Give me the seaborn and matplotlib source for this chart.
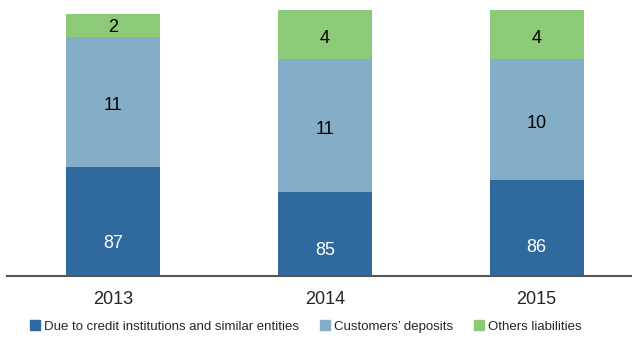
import pandas as pd
import matplotlib
matplotlib.use("Agg")
import matplotlib.pyplot as plt
import seaborn as sns
from matplotlib.patches import Patch

# Data
years = ["2013", "2014", "2015"]
# segment heights as drawn (bar size)
due_credit = [109, 84, 96]
cust_deposits = [130, 133, 121]
others = [23, 49, 49]
# printed shares (%)
due_credit_lbl = [87, 85, 86]
cust_deposits_lbl = [11, 11, 10]
others_lbl = [2, 4, 4]

series_names = ["Due to credit institutions and similar entities",
                "Customers\u2019 deposits", "Others liabilities"]
colors = ["#30699d", "#84aec8", "#8cca77"]

sns.set_style("white")
plt.rcParams["font.family"] = ["Liberation Sans", "DejaVu Sans"]

df = pd.DataFrame({"year": years, "due": due_credit,
                   "dep": cust_deposits, "oth": others})
df["b2"] = df["due"]
df["b3"] = df["due"] + df["dep"]

fig = plt.figure(figsize=(6.32, 3.38), dpi=100)
ax = fig.add_axes([7 / 632, 62 / 338, 625 / 632, 266 / 338])

w = 0.445
sns.barplot(data=df, x="year", y="due", color=colors[0], width=w,
            saturation=1, ax=ax, linewidth=0)
sns.barplot(data=df, x="year", y="dep", bottom=df["b2"], color=colors[1],
            width=w, saturation=1, ax=ax, linewidth=0)
sns.barplot(data=df, x="year", y="oth", bottom=df["b3"], color=colors[2],
            width=w, saturation=1, ax=ax, linewidth=0)

# value labels
for i in range(len(years)):
    ax.text(i, df["due"][i] * 0.3, str(due_credit_lbl[i]), ha="center",
            va="center", color="white", fontsize=13)
    ax.text(i, df["b2"][i] + df["dep"][i] * 0.47, str(cust_deposits_lbl[i]),
            ha="center", va="center", color="black", fontsize=13)
    ax.text(i, df["b3"][i] + df["oth"][i] * 0.42, str(others_lbl[i]),
            ha="center", va="center", color="black", fontsize=13)

ax.set_xlim(-0.5, 2.45)
ax.set_ylim(0, 266)
ax.set(xlabel="", ylabel="")
ax.set_yticks([])
for s in ["top", "right", "left"]:
    ax.spines[s].set_visible(False)
ax.spines["bottom"].set_color("#555555")
ax.spines["bottom"].set_linewidth(1.5)
ax.tick_params(axis="x", length=0, pad=11, labelsize=13)

handles = [Patch(color=c, label=n) for c, n in zip(colors, series_names)]
fig.legend(handles=handles, loc="lower left", bbox_to_anchor=(18 / 632, -0.02),
           ncol=3, frameon=False, fontsize=9.5, handlelength=0.75,
           handleheight=0.75, handletextpad=0.3, columnspacing=1.6)

plt.savefig("out.png", dpi=100)
